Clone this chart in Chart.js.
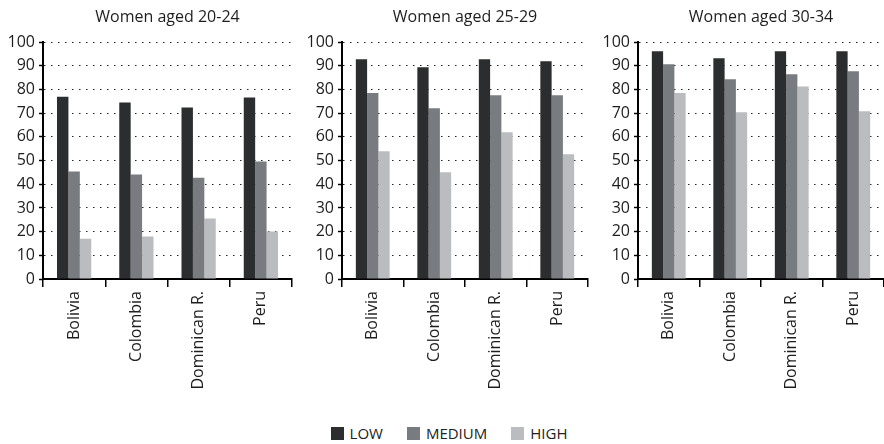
<!DOCTYPE html>
<html>
<head>
<meta charset="utf-8">
<script src="https://cdn.jsdelivr.net/npm/chart.js@4.4.1/dist/chart.umd.min.js"></script>
<style>
  body { margin: 0; background: #fff; width: 884px; height: 444px; overflow: hidden; position: relative; font-family: 'Open Sans', sans-serif; }
  .panel { position: absolute; top: 0; height: 400px; }
  #legend { position: absolute; top: 423px; left: 7px; width: 884px; text-align: center; font-size: 15px; color: #222; }
  #legend span.item { display: inline-block; margin: 0 12px; }
  #legend span.box { display: inline-block; width: 13px; height: 13px; margin-right: 6px; vertical-align: -1px; }
</style>
</head>
<body>
<div class="panel" style="left:0;width:296px"><canvas id="c0"></canvas></div>
<div class="panel" style="left:299px;width:293px"><canvas id="c1"></canvas></div>
<div class="panel" style="left:595px;width:289px"><canvas id="c2"></canvas></div>
<div id="legend"></div>
<script>
// Data
const countries = ['Bolivia', 'Colombia', 'Dominican R.', 'Peru'];
const panelTitles = ['Women aged 20-24', 'Women aged 25-29', 'Women aged 30-34'];
const seriesNames = ['LOW', 'MEDIUM', 'HIGH'];
const seriesColors = ['#2c2d2f', '#787b7f', '#bbbcc0'];

const low2024 = [77.0, 74.5, 72.4, 76.6];
const medium2024 = [45.4, 44.1, 42.8, 49.6];
const high2024 = [17.0, 17.9, 25.5, 20.1];

const low2529 = [92.8, 89.4, 92.8, 92.0];
const medium2529 = [78.5, 72.1, 77.6, 77.6];
const high2529 = [53.9, 45.1, 62.0, 52.7];

const low3034 = [96.2, 93.2, 96.2, 96.2];
const medium3034 = [90.7, 84.4, 86.5, 87.7];
const high3034 = [78.5, 70.4, 81.3, 70.8];

const panelData = [
    [low2024, medium2024, high2024],
    [low2529, medium2529, high2529],
    [low3034, medium3034, high3034]
];
const padRight = [4, 4, 0];

Chart.defaults.font.family = "'Open Sans', sans-serif";
Chart.defaults.color = '#1e1e1e';

panelTitles.forEach((title, p) => {
    new Chart(document.getElementById('c' + p), {
        type: 'bar',
        data: {
            labels: countries,
            datasets: seriesNames.map((name, s) => ({
                label: name,
                data: panelData[p][s],
                backgroundColor: seriesColors[s],
                borderWidth: 0,
                barPercentage: 1,
                categoryPercentage: 0.55
            }))
        },
        options: {
            responsive: true,
            maintainAspectRatio: false,
            animation: false,
            layout: { padding: { left: 0, right: padRight[p], top: 0, bottom: 0 } },
            scales: {
                x: {
                    afterFit: scale => { scale.height = 121; },
                    grid: {
                        offset: true,
                        drawOnChartArea: false,
                        drawTicks: true,
                        tickLength: 8,
                        color: '#000',
                        lineWidth: 1.5
                    },
                    border: { display: true, color: '#000', width: 2 },
                    ticks: {
                        minRotation: 90,
                        maxRotation: 90,
                        padding: 4,
                        font: { size: 16 }
                    }
                },
                y: {
                    min: 0,
                    max: 100,
                    afterFit: scale => { scale.width = 43; },
                    grid: {
                        color: '#222',
                        lineWidth: 1,
                        drawTicks: true,
                        tickLength: 4,
                        tickColor: '#000',
                        tickWidth: 1.5,
                        tickBorderDash: []
                    },
                    border: { display: true, color: '#000', width: 2, dash: [1.5, 5.5] },
                    ticks: {
                        stepSize: 10,
                        padding: 4,
                        font: { size: 16 }
                    }
                }
            },
            plugins: {
                legend: { display: false },
                tooltip: { enabled: false },
                title: {
                    display: true,
                    fullSize: false, // centre over the plot area
                    text: title,
                    color: '#1e1e1e',
                    font: { size: 16, weight: 'normal' },
                    padding: { top: 8, bottom: 15 }
                }
            }
        }
    });
});

// Legend built from the series arrays
const legend = document.getElementById('legend');
seriesNames.forEach((name, s) => {
    const item = document.createElement('span');
    item.className = 'item';
    const box = document.createElement('span');
    box.className = 'box';
    box.style.background = seriesColors[s];
    item.appendChild(box);
    item.appendChild(document.createTextNode(name));
    legend.appendChild(item);
});
</script>
</body>
</html>
